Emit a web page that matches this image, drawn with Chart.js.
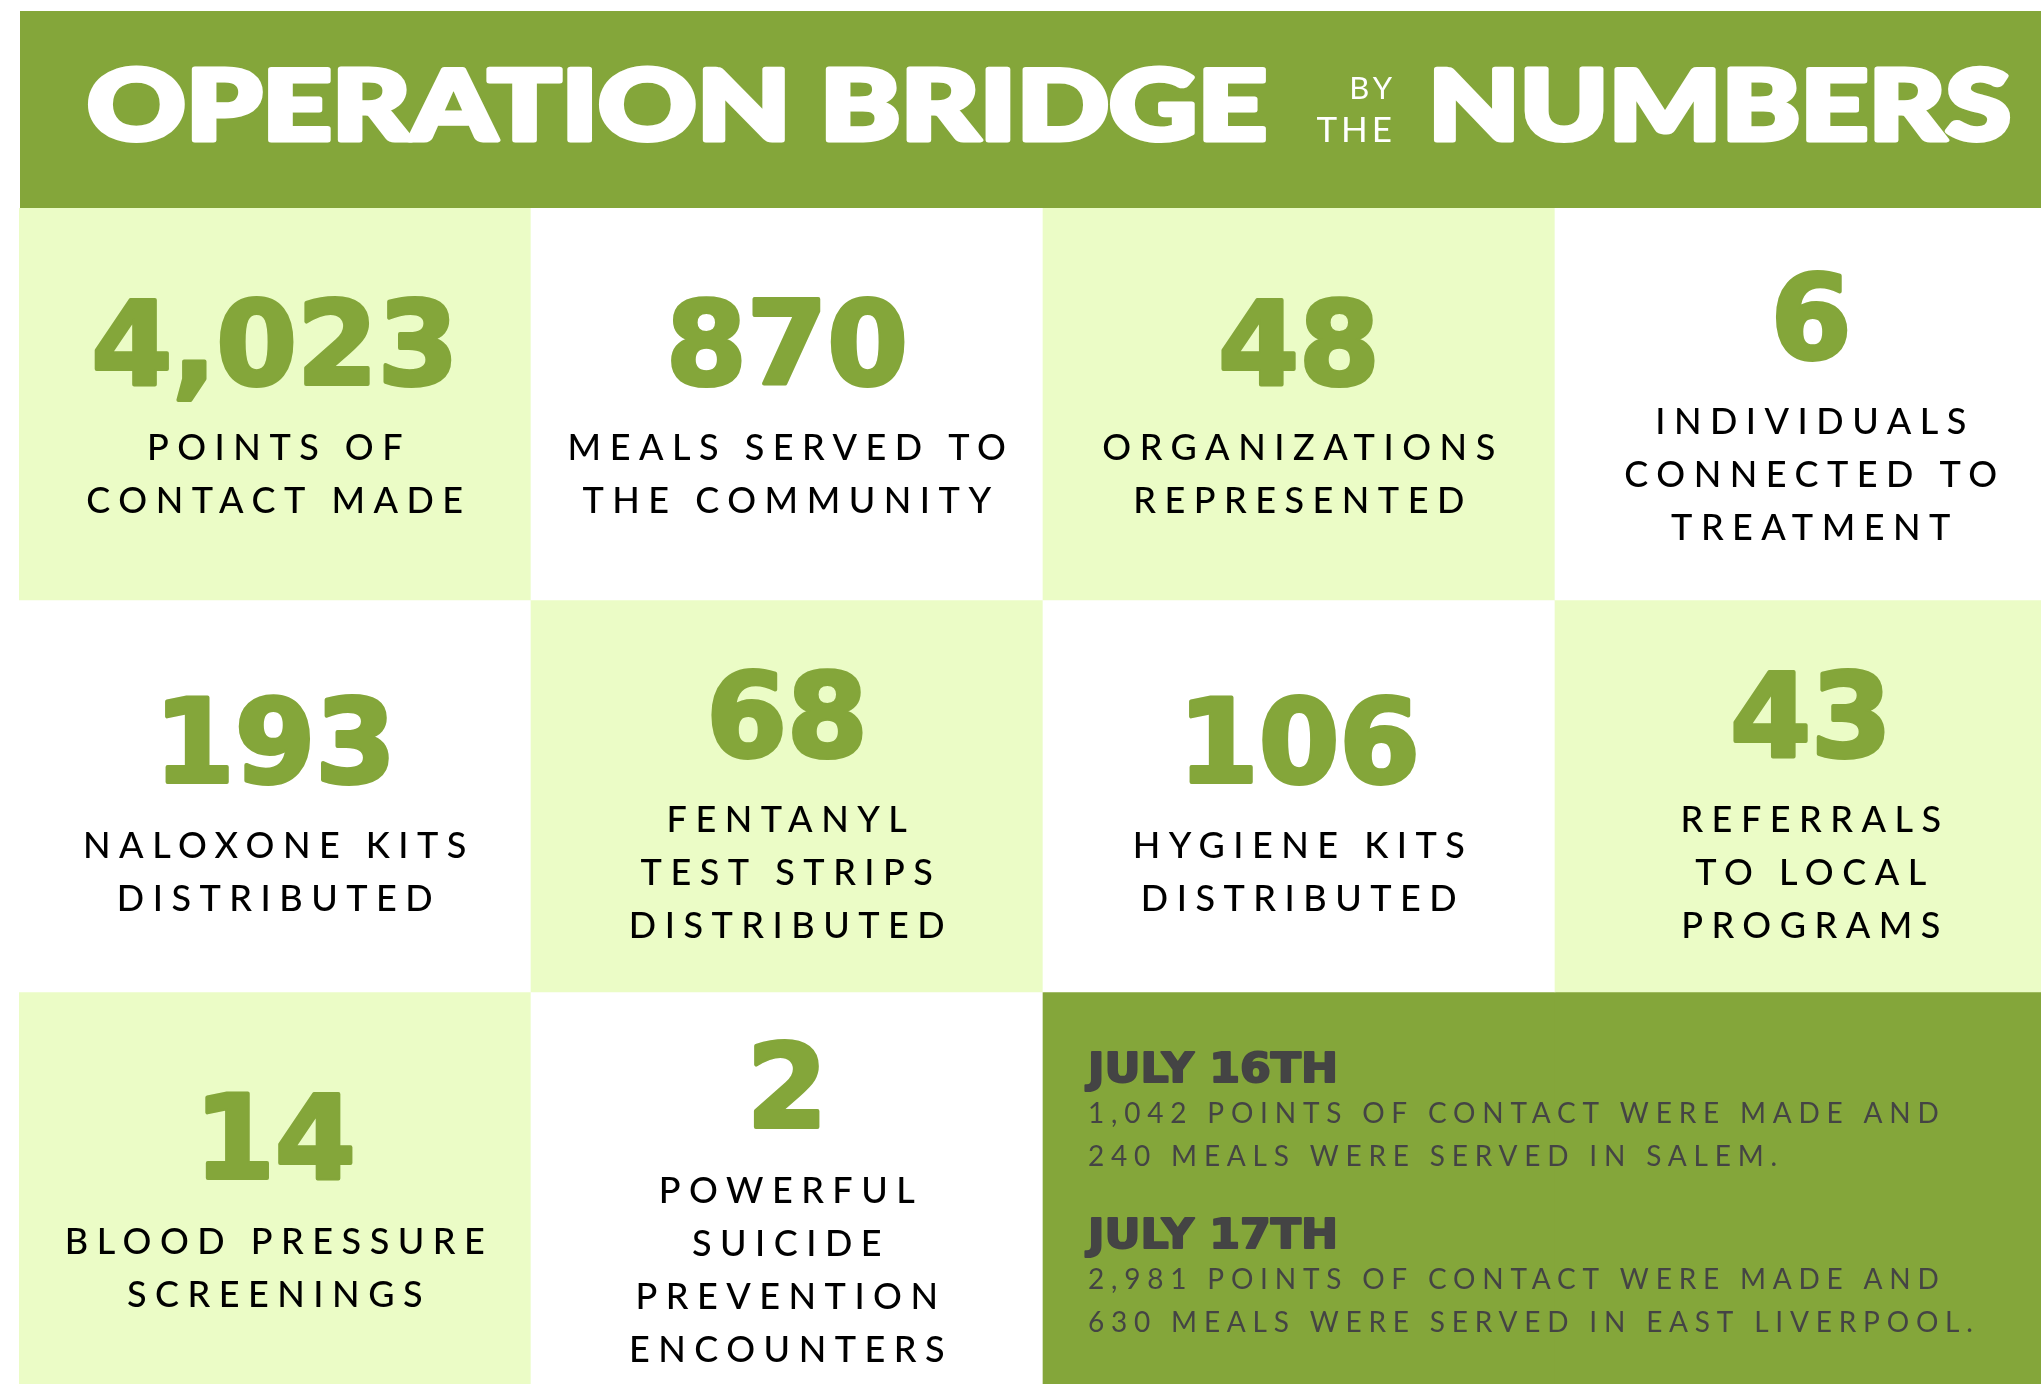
<!DOCTYPE html>
<html>
<head>
<meta charset="utf-8">
<title>Operation Bridge by the Numbers</title>
<script src="https://cdn.jsdelivr.net/npm/chart.js@4.4.1/dist/chart.umd.min.js"></script>
<style>
  html, body { margin: 0; padding: 0; background: #ffffff; }
  #frame { width: 2041px; height: 1384px; overflow: hidden; }
  #wrap { position: relative; width: 2067px; height: 1384px; }
</style>
</head>
<body>
<div id="frame"><div id="wrap"><canvas id="myChart"></canvas></div></div>
<script>
// --- data ---
const titleWords = ['OPERATION BRIDGE', 'NUMBERS'];
const titleSmall = ['BY', 'THE'];
const columns = ['col1', 'col2', 'col3', 'col4'];
const rows = [0, 1, 2];
const statValues = [4023, 870, 48, 6, 193, 68, 106, 43, 14, 2];
const statLabels = [
    ['POINTS OF', 'CONTACT MADE'],
    ['MEALS SERVED TO', 'THE COMMUNITY'],
    ['ORGANIZATIONS', 'REPRESENTED'],
    ['INDIVIDUALS', 'CONNECTED TO', 'TREATMENT'],
    ['NALOXONE KITS', 'DISTRIBUTED'],
    ['FENTANYL', 'TEST STRIPS', 'DISTRIBUTED'],
    ['HYGIENE KITS', 'DISTRIBUTED'],
    ['REFERRALS', 'TO LOCAL', 'PROGRAMS'],
    ['BLOOD PRESSURE', 'SCREENINGS'],
    ['POWERFUL', 'SUICIDE', 'PREVENTION', 'ENCOUNTERS']
];
const dayTitles = ['JULY 16TH', 'JULY 17TH'];
const dayContacts = [1042, 2981];
const dayMeals = [240, 630];
const dayPlaces = ['SALEM', 'EAST LIVERPOOL'];

// --- colours ---
const GREEN = '#84a63a';
const LIGHT = '#ebfcc6';
const WHITE = '#ffffff';
const GRAY = '#444444';

// small vertical nudges per row, the original grid is not quite even
const rowNudge = [-6, 0, 4];

// checkerboard, with the last two cells of the bottom row joined into the green panel
function cellFill(r, c) {
    if (r === 2 && c >= 2) return GREEN;
    return (r + c) % 2 === 0 ? LIGHT : WHITE;
}

function fmt(n) {
    return n.toLocaleString('en-US');
}

// stretched + emboldened text
function heavyText(ctx, text, x, y, sx, stroke) {
    ctx.save();
    ctx.translate(x, y);
    ctx.scale(sx, 1);
    if (stroke) {
        ctx.lineJoin = 'round';
        ctx.lineWidth = stroke;
        ctx.strokeStyle = ctx.fillStyle;
        ctx.strokeText(text, 0, 0);
    }
    ctx.fillText(text, 0, 0);
    ctx.restore();
}

function fitText(ctx, text, x, y, width, stroke) {
    const w = ctx.measureText(text).width;
    heavyText(ctx, text, x, y, width / w, stroke);
}

const infographic = {
    id: 'infographic',
    beforeDatasetsDraw(chart) {
        const ctx = chart.ctx;
        const area = chart.chartArea;
        // header band
        ctx.save();
        ctx.fillStyle = GREEN;
        ctx.fillRect(area.left + 1, 11, chart.width - area.left - 1, area.top - 11);
        ctx.fillStyle = WHITE;
        ctx.textBaseline = 'alphabetic';
        ctx.textAlign = 'left';
        ctx.font = '900 97px Lato, Roboto, "DejaVu Sans"';
        fitText(ctx, titleWords[0], 87, 140, 1180, 5);
        fitText(ctx, titleWords[1], 1428, 140, 583, 5);
        ctx.textAlign = 'right';
        ctx.letterSpacing = '4px';
        ctx.font = '400 31px Lato, "DejaVu Sans"';
        ctx.fillText(titleSmall[0], 1396, 99);
        ctx.font = '400 35px Lato, "DejaVu Sans"';
        ctx.fillText(titleSmall[1], 1396, 142);
        ctx.restore();
    },
    afterDatasetsDraw(chart) {
        const ctx = chart.ctx;
        ctx.save();
        ctx.textBaseline = 'alphabetic';
        rows.forEach((r) => {
            const meta = chart.getDatasetMeta(r);
            meta.data.forEach((el, c) => {
                const p = el.getProps(['x', 'y', 'base', 'width'], true);
                const top = Math.min(p.y, p.base) + rowNudge[r];
                const h = Math.abs(p.base - p.y);
                const k = r * columns.length + c;
                if (k < statValues.length) {
                    drawStat(ctx, p.x, top, h, statValues[k], statLabels[k]);
                } else if (k === statValues.length) {
                    drawPanel(ctx, p.x - p.width / 2, top - rowNudge[r]);
                }
            });
        });
        ctx.restore();
    }
};

function drawStat(ctx, cx, top, h, value, lines) {
    const numCap = 85, gap = 76, lh = 53;
    const blockH = numCap + gap + (lines.length - 1) * lh;
    let baseY = top + (h - blockH) / 2 + numCap + 8;
    if (lines.length === 4) baseY += 2;
    ctx.letterSpacing = '0px';
    ctx.textAlign = 'center';
    ctx.fillStyle = GREEN;
    ctx.font = 'bold 116px "DejaVu Sans"';
    heavyText(ctx, fmt(value), cx, baseY, 1, 4);
    ctx.fillStyle = '#000000';
    ctx.font = '500 36px Lato, "DejaVu Sans"';
    ctx.letterSpacing = '8.5px';
    lines.forEach((line, i) => {
        ctx.fillText(line, cx + 4, baseY + gap + i * lh);
    });
}

function drawPanel(ctx, left, top) {
    const x = left + 45;
    ctx.textAlign = 'left';
    ctx.fillStyle = GRAY;
    dayTitles.forEach((t, i) => {
        const y0 = top + 90 + i * 166;
        ctx.letterSpacing = '0px';
        ctx.font = 'bold 41px "DejaVu Sans"';
        heavyText(ctx, t, x, y0, 1.08, 2);
        ctx.font = '400 28px Lato, "DejaVu Sans"';
        ctx.letterSpacing = '6.8px';
        ctx.fillText(fmt(dayContacts[i]) + ' POINTS OF CONTACT WERE MADE AND', x, y0 + 41);
        ctx.fillText(dayMeals[i] + ' MEALS WERE SERVED IN ' + dayPlaces[i] + '.', x, y0 + 84);
    });
}

const config = {
    type: 'bar',
    data: {
        labels: columns,
        datasets: rows.map((r) => ({
            data: columns.map(() => [r, r + 1]), // one cell per column
            backgroundColor: columns.map((c, ci) => cellFill(r, ci)),
            borderWidth: 0,
            grouped: false,
            barPercentage: 1,
            categoryPercentage: 1
        }))
    },
    options: {
        responsive: true,
        maintainAspectRatio: false,
        animation: false,
        layout: {
            padding: { left: 19, top: 208, right: 0, bottom: 0 }
        },
        plugins: {
            legend: { display: false },
            tooltip: { enabled: false }
        },
        scales: {
            x: { type: 'category', display: false, offset: true },
            y: { min: 0, max: 3, reverse: true, display: false }
        }
    },
    plugins: [infographic]
};

const ctx = document.getElementById('myChart').getContext('2d');
const myChart = new Chart(ctx, config);
</script>
</body>
</html>
